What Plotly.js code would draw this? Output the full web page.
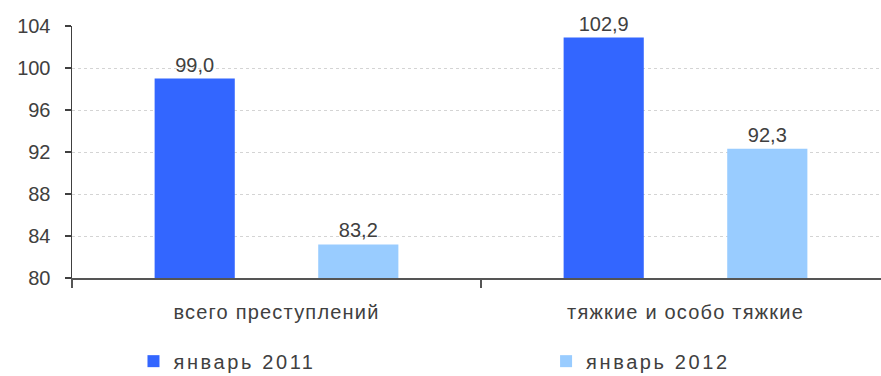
<!DOCTYPE html>
<html>
<head>
<meta charset="utf-8">
<script src="https://cdn.plot.ly/plotly-3.0.1.min.js"></script>
<style>
  html, body { margin: 0; padding: 0; background: #ffffff; }
  #chart { width: 881px; height: 376px; }
  #chart .xtick text { letter-spacing: 1.2px; }
  #chart .infolayer g[class*="legend"] text { letter-spacing: 2.6px !important; }
  #chart .infolayer g[class*="legend"] .scrollbox,
  #chart .scrollbox { clip-path: none !important; }
</style>
</head>
<body>
<div id="chart"></div>
<script>
// Crime categories and year-on-year index values (January)
const categories = ['всего преступлений', 'тяжкие и особо тяжкие'];
const jan2011 = [99.0, 102.9];
const jan2012 = [83.2, 92.3];
const seriesNames = ['январь 2011', 'январь 2012'];
const yTicks = [80, 84, 88, 92, 96, 100, 104];

const textColor = '#404040';
const baseFont = { family: 'Liberation Sans, Arial, sans-serif', size: 20, color: textColor };

function barTrace(name, values, color, legendId) {
  return {
    type: 'bar',
    name: name,
    x: categories,
    y: values,
    legend: legendId,
    marker: { color: color, line: { width: 0 } },
    texttemplate: '%{y:.1f}',
    textposition: 'outside',
    textfont: baseFont,
    cliponaxis: false,
    hoverinfo: 'skip'
  };
}

const data = [
  barTrace(seriesNames[0], jan2011, '#3366ff', 'legend'),
  barTrace(seriesNames[1], jan2012, '#99ccff', 'legend2')
];

// each series gets its own legend box so the two entries sit far apart
function legendBox(x) {
  return {
    orientation: 'h',
    x: x,
    xanchor: 'left',
    y: -0.33,
    yanchor: 'middle',
    bgcolor: 'rgba(0,0,0,0)',
    font: { family: baseFont.family, size: 20, color: textColor }
  };
}

const layout = {
  width: 881,
  height: 376,
  margin: { l: 72, r: 0, t: 26, b: 98, autoexpand: false },
  paper_bgcolor: '#ffffff',
  plot_bgcolor: '#ffffff',
  separators: ', ',
  font: baseFont,
  barmode: 'group',
  bargap: 0.2,
  bargroupgap: 0.51,
  showlegend: true,
  legend: legendBox(0.076),
  legend2: legendBox(0.586),
  xaxis: {
    type: 'category',
    range: [-0.5, 1.478],
    showgrid: false,
    showline: true,
    linecolor: '#555555',
    linewidth: 2,
    ticks: 'outside',
    tickson: 'boundaries',
    ticklen: 8,
    tickcolor: '#555555',
    tickwidth: 1.5,
    ticklabelstandoff: 15,
    tickfont: baseFont,
    zeroline: false,
    fixedrange: true
  },
  yaxis: {
    range: [80, 104],
    tickvals: yTicks,
    ticktext: yTicks.map(String),
    showline: true,
    linecolor: '#404040',
    linewidth: 1.5,
    ticks: 'outside',
    ticklen: 6,
    tickcolor: '#404040',
    tickwidth: 1.5,
    ticklabelstandoff: 10,
    tickfont: baseFont,
    showgrid: true,
    gridcolor: '#d4d4d4',
    gridwidth: 1,
    griddash: 'dot',
    zeroline: false,
    fixedrange: true
  }
};

Plotly.newPlot('chart', data, layout, { staticPlot: true, displayModeBar: false });
</script>
</body>
</html>
